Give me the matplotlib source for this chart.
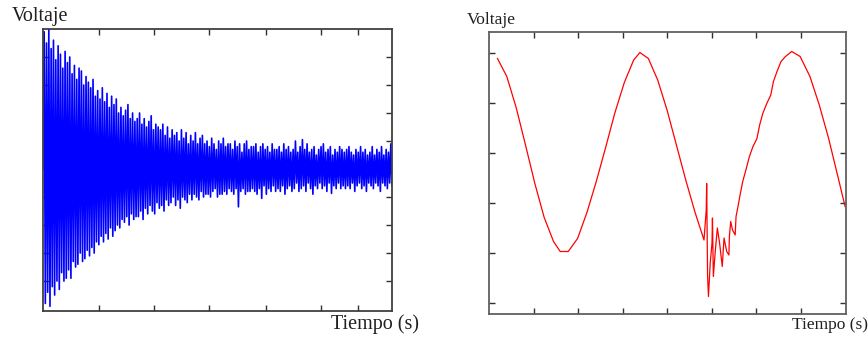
import numpy as np
import matplotlib
matplotlib.use("Agg")
import matplotlib.pyplot as plt

# left panel: decaying oscillation, successive peaks / troughs
peaks = [
    4.9, 4.5, 5.0, 4.3, 4.6, 3.9, 4.4, 4.1, 3.6, 4.2,
    3.8, 4.0, 3.4, 3.7, 3.2, 3.6, 3.5, 3.0, 3.3, 3.1,
    2.9, 3.2, 2.6, 2.8, 2.5, 2.9, 2.4, 2.7, 2.2, 2.6,
    2.3, 2.5, 2.0, 2.2, 1.9, 2.1, 2.3, 1.8, 2.0, 1.7,
    1.8, 2.0, 1.6, 1.8, 1.5, 1.7, 1.9, 1.4, 1.6, 1.5,
    1.4, 1.6, 1.2, 1.5, 1.1, 1.4, 1.2, 1.3, 1.0, 1.4,
    1.1, 1.3, 0.9, 1.2, 1.0, 1.3, 0.9, 1.1, 1.2, 0.9,
    1.0, 0.8, 1.1, 0.9, 0.7, 1.0, 0.9, 1.1, 0.8, 0.9,
    0.9, 0.7, 1.0, 0.8, 0.9, 0.6, 0.9, 1.0, 0.7, 0.8,
    0.8, 0.9, 0.6, 0.8, 0.9, 0.7, 0.8, 0.6, 0.9, 0.7,
    0.7, 0.8, 0.6, 0.9, 0.7, 0.8, 0.6, 0.7, 1.0, 0.6,
    0.8, 1.05, 0.7, 0.9, 0.6, 0.7, 0.8, 0.5, 0.7, 0.8,
    0.9, 0.6, 0.7, 0.8, 0.5, 0.7, 0.6, 0.8, 0.7, 0.6,
    0.7, 0.8, 0.6, 0.5, 0.7, 0.6, 0.8, 0.6, 0.7, 0.5,
    0.6, 0.8, 0.5, 0.7, 0.6, 0.8, 0.5, 0.7, 0.6, 0.9,
]
troughs = [
    -4.8, -4.4, -4.9, -4.2, -4.5, -4.0, -4.3, -3.7, -4.0, -3.9,
    -3.6, -3.9, -3.3, -3.5, -3.4, -3.0, -3.3, -3.2, -2.9, -3.1,
    -2.8, -3.0, -2.6, -2.7, -2.4, -2.6, -2.3, -2.5, -2.1, -2.4,
    -2.2, -2.0, -2.1, -1.8, -1.9, -1.7, -2.0, -1.6, -1.8, -1.7,
    -1.7, -1.5, -1.8, -1.4, -1.6, -1.3, -1.5, -1.6, -1.2, -1.4,
    -1.3, -1.5, -1.1, -1.3, -1.2, -1.0, -1.3, -1.1, -1.4, -1.0,
    -1.1, -1.2, -0.9, -1.1, -0.9, -1.0, -1.1, -0.8, -1.0, -0.9,
    -0.9, -1.0, -0.8, -0.7, -1.0, -0.9, -0.9, -0.8, -0.9, -0.7,
    -0.8, -0.9, -0.7, -1.35, -0.8, -0.7, -0.9, -0.8, -0.8, -0.7,
    -0.8, -0.9, -0.7, -1.05, -0.6, -0.9, -0.7, -0.8, -0.6, -0.8,
    -0.7, -0.8, -0.6, -0.9, -0.7, -0.6, -0.8, -0.7, -0.5, -0.8,
    -0.7, -0.6, -0.8, -0.5, -0.7, -0.9, -0.6, -0.7, -0.5, -0.7,
    -0.6, -0.8, -0.5, -0.87, -0.6, -0.7, -0.5, -0.7, -0.6, -0.7,
    -0.6, -0.7, -0.5, -0.8, -0.6, -0.5, -0.7, -0.6, -0.8, -0.5,
    -0.6, -0.7, -0.5, -0.6, -0.8, -0.5, -0.6, -0.7, -0.5, -0.6,
]

# right panel: sine with a disturbance near the second trough
t_right = [
    0.19, 0.40, 0.61, 0.82, 1.03, 1.24, 1.45, 1.60, 1.78, 1.99,
    2.20, 2.41, 2.62, 2.83, 3.04, 3.25, 3.39, 3.58, 3.79, 4.00,
    4.21, 4.42, 4.63, 4.83, 4.88, 4.89, 4.91, 4.93, 4.97, 5.01,
    5.02, 5.04, 5.08, 5.13, 5.18, 5.24, 5.28, 5.34, 5.39, 5.40,
    5.43, 5.47, 5.53, 5.55, 5.60, 5.64, 5.70, 5.78, 5.85, 5.93,
    6.02, 6.08, 6.15, 6.24, 6.33, 6.39, 6.47, 6.56, 6.66, 6.80,
    6.99, 7.21, 7.42, 7.63, 7.81, 8.00,
]
v_right = [
    1.88, 1.52, 0.90, 0.15, -0.62, -1.30, -1.78, -1.98, -1.98, -1.72,
    -1.20, -0.58, 0.10, 0.80, 1.40, 1.85, 2.00, 1.88, 1.45, 0.85,
    0.15, -0.55, -1.20, -1.75, -1.15, -0.62, -2.45, -2.88, -2.21, -1.81,
    -1.31, -2.48, -2.01, -1.51, -1.81, -2.28, -1.71, -1.98, -2.05, -1.68,
    -1.38, -1.55, -1.65, -1.28, -1.05, -0.85, -0.58, -0.32, -0.08, 0.12,
    0.28, 0.55, 0.78, 0.98, 1.15, 1.42, 1.62, 1.82, 1.92, 2.02,
    1.92, 1.52, 0.95, 0.28, -0.38, -1.08,
]

v_left = [0.0]
for p, q in zip(peaks, troughs):
    v_left += [p, q]
t_left = np.linspace(0, 6.35, len(v_left))

plt.rcParams['font.family'] = ['Liberation Serif', 'DejaVu Serif']

fig = plt.figure(figsize=(8.68, 3.37), dpi=100)

ax1 = fig.add_axes([43 / 868, 26 / 337, 349 / 868, 282 / 337])
ax1.plot(t_left, v_left, color='#0000ff', lw=1.2)
ax1.set_xlim(0, 6.35)
ax1.set_ylim(-5.07, 5.0)
ax1.set_xticks([1.02, 2.02, 3.02, 4.05, 5.05, 5.73])
ax1.set_yticks([-4, -3, -2, -1, 0, 1, 2, 3, 4])

ax2 = fig.add_axes([489 / 868, 23 / 337, 357 / 868, 282 / 337])
ax2.plot(t_right, v_right, color='#ff0000', lw=0.9)
ax2.set_xlim(0, 8.02)
ax2.set_ylim(-3.23, 2.41)
ax2.set_xticks([1, 2, 3, 4, 5, 6, 7])
ax2.set_yticks([-3, -2, -1, 0, 1, 2])

for ax, col in [(ax1, '#404040'), (ax2, '#606060')]:
    for s in ax.spines.values():
        s.set_color(col)
        s.set_linewidth(1.3)
    ax.tick_params(direction='in', length=4, width=1, color='#303030',
                   top=True, right=True, labelbottom=False, labelleft=False)

fig.text(12 / 868, 1 - 16 / 337, 'Voltaje', fontsize=14.5, ha='left', va='center', color='#202020')
fig.text(375 / 868, 1 - 324 / 337, 'Tiempo (s)', fontsize=14.5, ha='center', va='center', color='#202020')
fig.text(467 / 868, 1 - 20 / 337, 'Voltaje', fontsize=12.5, ha='left', va='center', color='#202020')
fig.text(830 / 868, 1 - 325 / 337, 'Tiempo (s)', fontsize=12.5, ha='center', va='center', color='#202020')

fig.savefig('out.png', dpi=100)
